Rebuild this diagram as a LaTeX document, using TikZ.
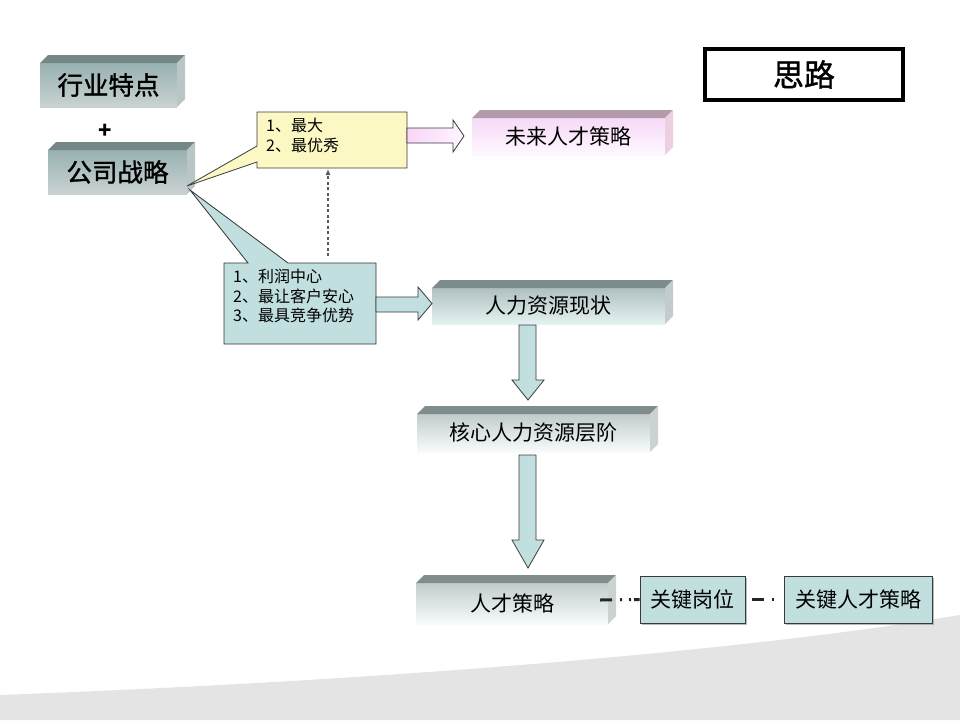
\documentclass[tikz,border=0pt]{standalone}
\usepackage{fontspec}
\setmainfont{Noto Sans CJK SC}
\newfontfamily\semib[FakeBold=1.3]{Noto Sans CJK SC}
\usetikzlibrary{calc,arrows.meta,shadows}
\definecolor{bggray}{HTML}{E4E4E4}
\definecolor{edgec}{HTML}{3A3A3A}
\definecolor{yelfill}{HTML}{FBF8C4}
\definecolor{tealfill}{HTML}{C2DFE0}
\tikzset{
  tealA front/.style={top color=black!5!teal!35!gray!60, bottom color=teal!20!gray!35!white},
  tealA top/.style={fill=teal!15!gray!95},
  tealA side/.style={fill=teal!20!gray!45!white},
  pinkA front/.style={top color=magenta!12!white!93!gray, bottom color=white!97!magenta},
  pinkA top/.style={fill=magenta!18!gray!80},
  pinkA side/.style={fill=magenta!15!white!85!gray},
  tealB front/.style={top color=teal!25!gray!50!white, bottom color=teal!10!white},
  tealB top/.style={fill=teal!15!gray!90},
  tealB side/.style={fill=teal!20!gray!40!white},
  tealC front/.style={top color=teal!20!gray!40!white, bottom color=teal!3!white},
  tealC top/.style={fill=teal!10!gray!90},
  tealC side/.style={fill=teal!18!gray!35!white},
  tdtext/.style={inner sep=0pt, font=\fontsize{21}{24}\selectfont},
  blockarrow/.style={draw=edgec, line width=0.8pt, line join=miter},
  flatbox/.style={draw=edgec, line width=0.8pt, fill=tealfill, inner sep=0pt,
    font=\fontsize{21}{24}\selectfont,
    drop shadow={shadow xshift=1.5pt, shadow yshift=-1.5pt, fill=black!45, opacity=0.6}},
  callouttext/.style={anchor=north west, align=left, inner sep=0pt, font=\fontsize{16}{19.5}\selectfont},
  linkline/.style={line width=3pt, draw=black!85,
    dash pattern=on 12pt off 8pt on 2pt off 7pt on 2pt off 3pt},
}
\newcommand\tdbox[7]{%
  \shade[#6 front] (#2,#3) rectangle (#4,#5);
  \fill[#6 top] (#2,#3) -- (#2+8,#3-8) -- (#4+8,#3-8) -- (#4,#3) -- cycle;
  \fill[#6 side] (#4,#3) -- (#4+8,#3-8) -- (#4+8,#5-8) -- (#4,#5) -- cycle;
  \node[tdtext, minimum width={(#4-#2)*1pt}, minimum height={(#5-#3)*1pt}] (#1) at ({(#2+#4)/2},{(#3+#5)/2}) {#7};
}
\begin{document}
\begin{tikzpicture}[x=1pt,y=-1pt]
\useasboundingbox (0,0) rectangle (960,720);
\fill[white] (0,0) rectangle (960,720);
% background swoosh
\fill[bggray] (0,695) .. controls (400,680) and (750,650) .. (960,615) -- (960,720) -- (0,720) -- cycle;

% left 3D boxes
\tdbox{hy}{40}{63}{177}{107}{tealA}{\fontsize{25.5}{28}\semib 行业特点}
\node[font=\fontsize{22}{24}\selectfont\bfseries] (plus) at (105,131) {+};
\tdbox{gs}{48}{150}{187}{194}{tealA}{\fontsize{25.5}{28}\semib 公司战略}

% callouts
\coordinate (apexY) at (187,186);
\coordinate (apexT) at (190,190);
\filldraw[fill=tealfill, draw=black!80, line width=0.8pt, line join=miter]
  (224,263) -- (248,263) -- (apexT) -- (288,263) -- (376,263) -- (376,344) -- (224,344) -- cycle;
\filldraw[fill=yelfill, draw=edgec, line width=0.8pt, line join=miter]
  (257,112) -- (407,112) -- (407,168) -- (257,168) -- (257,162) -- (apexY) -- (257,146) -- cycle;
\node[callouttext] (ytext) at (266,118) {1、最大\\2、最优秀};
\node[callouttext] (ttext) at (233,269) {1、利润中心\\2、最让客户安心\\3、最具竞争优势};

% dotted arrow
\coordinate (dotS) at (328,256);
\coordinate (dotN) at (328,169);
\draw[dash pattern=on 3pt off 2.5pt, line width=1.1pt, draw=black!65, -{Latex[length=6pt,width=5pt]}] (dotS) -- (dotN);

% right boxes
\tdbox{wl}{472}{118}{665}{155}{pinkA}{未来人才策略}
\tdbox{hr}{432}{288}{665}{324}{tealB}{人力资源现状}
\tdbox{hx}{417}{414}{650}{452}{tealC}{核心人力资源层阶}
\tdbox{rc}{416}{583}{608}{624}{tealC}{人才策略}

% block arrows
\shade[blockarrow, left color=magenta!14!white!94!gray, right color=magenta!4!white]
  (407,128) -- (453,128) -- (453,120) -- (464,136) -- (453,152) -- (453,143) -- (407,143) -- cycle;
\filldraw[blockarrow, fill=tealfill]
  (376,297) -- (418,297) -- (418,287) -- (432,303.5) -- (418,320) -- (418,312) -- (376,312) -- cycle;
\filldraw[blockarrow, fill=tealfill]
  (519,325) -- (536,325) -- (536,380) -- (544,380) -- (528,400) -- (512,380) -- (519,380) -- cycle;
\filldraw[blockarrow, fill=tealfill]
  (519,455) -- (536,455) -- (536,540) -- (544,540) -- (528,568) -- (512,540) -- (519,540) -- cycle;

% flat boxes
\node[flatbox, minimum width=105pt, minimum height=47pt] (kg) at (692.5,599.5) {关键岗位};
\node[flatbox, minimum width=148pt, minimum height=47pt] (kr) at (858,599.5) {关键人才策略};
\coordinate (lk1) at (600,600);
\draw[linkline] (lk1) -- (kg.west);
\draw[linkline, dash pattern=on 12pt off 8pt on 2pt off 30pt] ($(kg.east)+(7,0)$) -- (kr.west);

% title
\node[draw=black, line width=4pt, minimum width=198pt, minimum height=51pt, font=\fontsize{31}{34}\semib] (sl) at (804,74.5) {思路};
\end{tikzpicture}
\end{document}
